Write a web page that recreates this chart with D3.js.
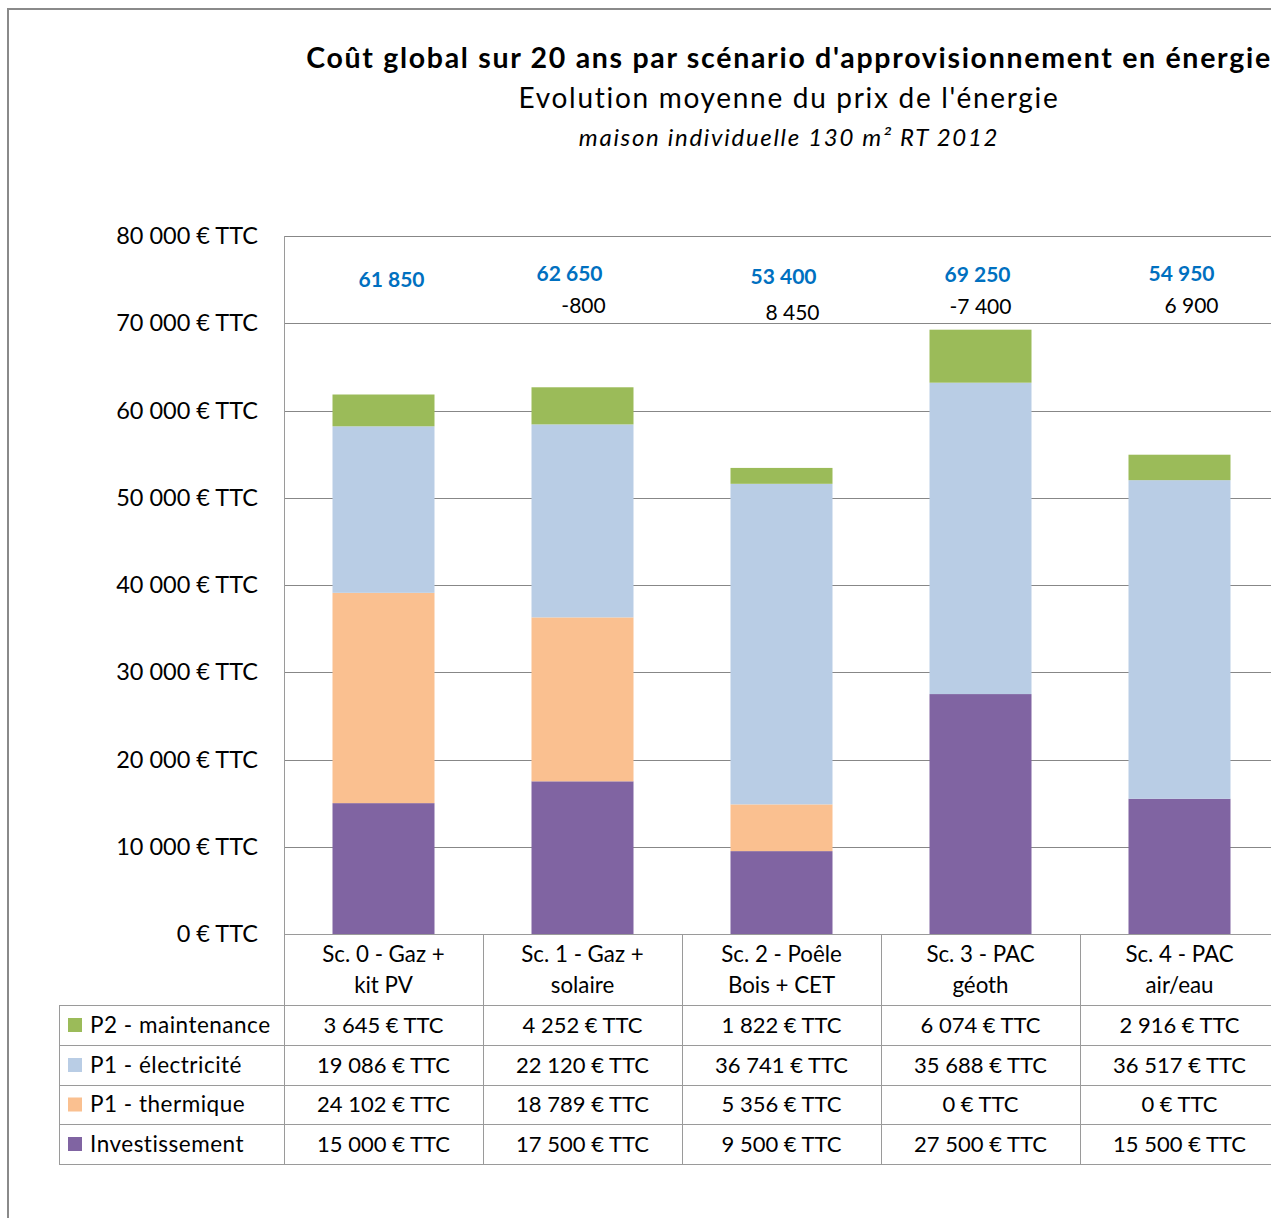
<!DOCTYPE html>
<html lang="fr">
<head>
<meta charset="utf-8">
<script src="https://cdn.jsdelivr.net/npm/d3@7"></script>
<style>
  html, body { margin: 0; padding: 0; background: #fff; }
  svg { display: block; font-family: Lato, "Open Sans", sans-serif; }
</style>
</head>
<body>
<svg id="chart" width="1271" height="1218"></svg>
<script>
// Scenario labels (two lines each, as shown in the data table header)
const categories = [
  ["Sc. 0 - Gaz +", "kit PV"],
  ["Sc. 1 - Gaz +", "solaire"],
  ["Sc. 2 - Poêle", "Bois + CET"],
  ["Sc. 3 - PAC", "géoth"],
  ["Sc. 4 - PAC", "air/eau"]
];

// Cost components over 20 years, € TTC
const investissement = [15000, 17500, 9500, 27500, 15500];
const thermique      = [24102, 18789, 5356, 0, 0];
const electricite    = [19086, 22120, 36741, 35688, 36517];
const maintenance    = [3645, 4252, 1822, 6074, 2916];

// Series names (table order, top to bottom)
const seriesNames = ["P2 - maintenance", "P1 - électricité", "P1 - thermique", "Investissement"];

const yTicks = [0, 10000, 20000, 30000, 40000, 50000, 60000, 70000, 80000];

// ---- styling / layout ----
const colors = {
  "P2 - maintenance": "#9bbb59",
  "P1 - électricité": "#b9cde5",
  "P1 - thermique":   "#fac090",
  "Investissement":   "#8064a2"
};
const valuesBySeries = {
  "P2 - maintenance": maintenance,
  "P1 - électricité": electricite,
  "P1 - thermique":   thermique,
  "Investissement":   investissement
};
const stackOrder = ["Investissement", "P1 - thermique", "P1 - électricité", "P2 - maintenance"];

// hand-placed offsets of the total / difference labels in the top band
const totalNudge = [[8, 280], [-13, 274], [2, 277], [-3, 275], [2, 274]];
const diffNudge  = [null, [1, 306], [11, 313], [0, 307], [12, 306]];

const W = 1271, H = 1218;
const plotLeft = 284, plotTop = 236, plotBottom = 934, step = 199;
const tableLeft = 59, headerBottom = 1005;
const rowEdges = [1005, 1045, 1085, 1124, 1164];
const barWidth = 102;
const gridColor = "#878787", tableColor = "#9a9a9a";

const locale = d3.formatLocale({
  decimal: ",", thousands: "\u00a0", grouping: [3], currency: ["", " €"], minus: "-"
});
const fmt = locale.format(",d");
const euro = v => fmt(v) + " € TTC";

const svg = d3.select("#chart");

// outer chart frame
svg.append("path")
  .attr("d", `M8,${H} L8,9 L${W},9`)
  .attr("fill", "none").attr("stroke", "#8a8a8a").attr("stroke-width", 2);

// titles
const cx = 789;
svg.append("text").attr("x", cx).attr("y", 68).attr("text-anchor", "middle")
  .attr("font-size", 28.5).attr("font-weight", 700).attr("fill", "#000")
  .attr("letter-spacing", 1.7)
  .text("Coût global sur 20 ans par scénario d'approvisionnement en énergie");
svg.append("text").attr("x", cx).attr("y", 108).attr("text-anchor", "middle")
  .attr("font-size", 28).attr("fill", "#000").attr("letter-spacing", 1.7)
  .text("Evolution moyenne du prix de l'énergie");
svg.append("text").attr("x", cx).attr("y", 146).attr("text-anchor", "middle")
  .attr("font-size", 24).attr("font-style", "italic").attr("fill", "#000")
  .attr("letter-spacing", 1.7)
  .text("maison individuelle 130 m² RT 2012");

// scales
const x = d3.scaleBand().domain(d3.range(categories.length))
  .range([plotLeft, plotLeft + step * categories.length]).padding(0);
const y = d3.scaleLinear().domain([0, 80000]).range([plotBottom, plotTop]);

// y axis with gridlines
const yAxis = d3.axisLeft(y).tickValues(yTicks).tickFormat(euro)
  .tickSize(-(W - plotLeft)).tickPadding(26);
const gy = svg.append("g").attr("transform", `translate(${plotLeft},0)`).call(yAxis);
gy.select(".domain").remove();
gy.selectAll(".tick line").attr("stroke", gridColor).attr("stroke-width", 1)
  .attr("shape-rendering", "crispEdges");
gy.selectAll(".tick text").attr("font-size", 23.5).attr("fill", "#000")
  .attr("font-family", "Lato, sans-serif");

// stacked bars
const rows = categories.map((c, i) => {
  const r = { i };
  stackOrder.forEach(k => r[k] = valuesBySeries[k][i]);
  return r;
});
const stacked = d3.stack().keys(stackOrder)(rows);
svg.append("g").selectAll("g").data(stacked).join("g")
  .attr("fill", d => colors[d.key])
  .selectAll("rect").data(d => d).join("rect")
  .attr("x", d => x(d.data.i) + (x.bandwidth() - barWidth) / 2)
  .attr("width", barWidth)
  .attr("y", d => y(d[1]))
  .attr("height", d => y(d[0]) - y(d[1]));

// totals (rounded to 50 €) and difference vs scenario 0
const totals = rows.map(r => Math.round(d3.sum(stackOrder, k => r[k]) / 50) * 50);
const diffs = totals.map(t => totals[0] - t);

svg.append("g").selectAll("text").data(totals).join("text")
  .attr("x", (d, i) => x(i) + x.bandwidth() / 2 + totalNudge[i][0])
  .attr("y", (d, i) => totalNudge[i][1])
  .attr("dy", "0.35em")
  .attr("text-anchor", "middle").attr("font-size", 21).attr("font-weight", 700)
  .attr("fill", "#0070c0")
  .text(d => fmt(d));

svg.append("g").selectAll("text").data(diffs.slice(1)).join("text")
  .attr("x", (d, i) => x(i + 1) + x.bandwidth() / 2 + diffNudge[i + 1][0])
  .attr("y", (d, i) => diffNudge[i + 1][1])
  .attr("dy", "0.35em")
  .attr("text-anchor", "middle").attr("font-size", 21).attr("fill", "#000")
  .text(d => fmt(d));

// plot left edge / value axis line
svg.append("line").attr("x1", plotLeft).attr("x2", plotLeft)
  .attr("y1", plotTop).attr("y2", rowEdges[rowEdges.length - 1])
  .attr("stroke", tableColor).attr("shape-rendering", "crispEdges");

// data table grid
const table = svg.append("g").attr("stroke", tableColor).attr("shape-rendering", "crispEdges");
table.append("line").attr("x1", plotLeft).attr("x2", W).attr("y1", plotBottom).attr("y2", plotBottom);
rowEdges.forEach(ye => table.append("line").attr("x1", tableLeft).attr("x2", W).attr("y1", ye).attr("y2", ye));
table.append("line").attr("x1", tableLeft).attr("x2", tableLeft)
  .attr("y1", headerBottom).attr("y2", rowEdges[rowEdges.length - 1]);
d3.range(1, categories.length + 1).forEach(i => {
  const xe = plotLeft + step * i;
  table.append("line").attr("x1", xe).attr("x2", xe)
    .attr("y1", plotBottom).attr("y2", rowEdges[rowEdges.length - 1]);
});

// category header cells
const header = svg.append("g").attr("font-size", 22.3).attr("fill", "#000").attr("text-anchor", "middle");
categories.forEach((lines, i) => {
  lines.forEach((ln, j) => {
    header.append("text")
      .attr("x", x(i) + x.bandwidth() / 2)
      .attr("y", 954 + j * 31).attr("dy", "0.35em")
      .text(ln);
  });
});

// legend column and value cells
seriesNames.forEach((name, r) => {
  const yc = (rowEdges[r] + rowEdges[r + 1]) / 2;
  svg.append("rect").attr("x", 68).attr("y", yc - 7).attr("width", 14).attr("height", 14)
    .attr("fill", colors[name]);
  svg.append("text").attr("x", 90).attr("y", yc).attr("dy", "0.35em")
    .attr("font-size", 22.5).attr("letter-spacing", 0.5).attr("fill", "#000").text(name);
  valuesBySeries[name].forEach((v, i) => {
    svg.append("text")
      .attr("x", x(i) + x.bandwidth() / 2).attr("y", yc).attr("dy", "0.35em")
      .attr("text-anchor", "middle").attr("font-size", 22).attr("fill", "#000")
      .text(euro(v));
  });
});
</script>
</body>
</html>
